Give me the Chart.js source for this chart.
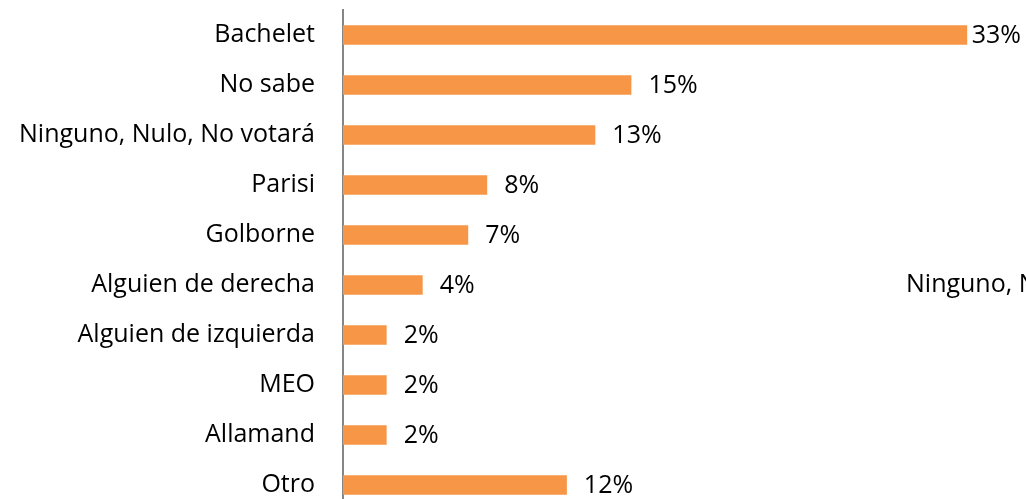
<!DOCTYPE html>
<html>
<head>
<meta charset="utf-8">
<script src="https://cdn.jsdelivr.net/npm/chart.js@4/dist/chart.umd.min.js"></script>
<style>
html,body{margin:0;padding:0;background:#fff;overflow:hidden;width:1026px;height:499px;}
#wrap{position:relative;width:1026px;height:520px;}
canvas{display:block;}
</style>
</head>
<body>
<div id="wrap"><canvas id="c"></canvas></div>
<script>
const categories = ["Bachelet","No sabe","Ninguno, Nulo, No votará","Parisi","Golborne","Alguien de derecha","Alguien de izquierda","MEO","Allamand","Otro"];
const values = [32.9, 15.2, 13.3, 7.6, 6.6, 4.2, 2.3, 2.3, 2.3, 11.8];
const valueLabels = ["33%","15%","13%","8%","7%","4%","2%","2%","2%","12%"];
const strayLegendText = "Ninguno, Nulo, No votará";

const FONT = "'Open Sans', sans-serif";
const FSIZE = 25;

const labelPlugin = {
  id: 'valueLabels',
  afterDatasetsDraw(chart) {
    const ctx = chart.ctx;
    const meta = chart.getDatasetMeta(0);
    ctx.save();
    ctx.font = FSIZE + "px " + FONT;
    ctx.fillStyle = "#000";
    ctx.textBaseline = "middle";
    ctx.textAlign = "left";
    meta.data.forEach((bar, i) => {
      const w = ctx.measureText(valueLabels[i]).width;
      const x = Math.min(bar.x + 17, chart.width - 5 - w);
      ctx.fillText(valueLabels[i], x, bar.y + 1);
    });
    const yRow = chart.scales.y.getPixelForValue(5);
    ctx.fillText(strayLegendText, 906, yRow);
    ctx.restore();
  }
};

const ch = new Chart(document.getElementById('c'), {
  type: 'bar',
  data: {
    labels: categories,
    datasets: [{
      data: values,
      backgroundColor: '#F79646',
      borderWidth: 0,
      categoryPercentage: 1,
      barPercentage: 0.39
    }]
  },
  options: {
    indexAxis: 'y',
    responsive: true,
    maintainAspectRatio: false,
    animation: false,
    devicePixelRatio: 1,
    layout: { padding: { top: 10, bottom: 10, left: 0, right: 0 } },
    plugins: { legend: { display: false }, tooltip: { enabled: false } },
    scales: {
      x: { display: false, min: 0, max: 36 },
      y: {
        afterFit(scale) { scale.width = 343; scale.paddingTop = 0; scale.paddingBottom = 0; },
        grid: { display: false, drawTicks: false },
        border: { display: true, color: '#868686', width: 2 },
        ticks: { color: '#000', font: { family: FONT, size: FSIZE }, padding: 28, autoSkip: false }
      }
    }
  },
  plugins: [labelPlugin]
});
</script>
</body>
</html>
